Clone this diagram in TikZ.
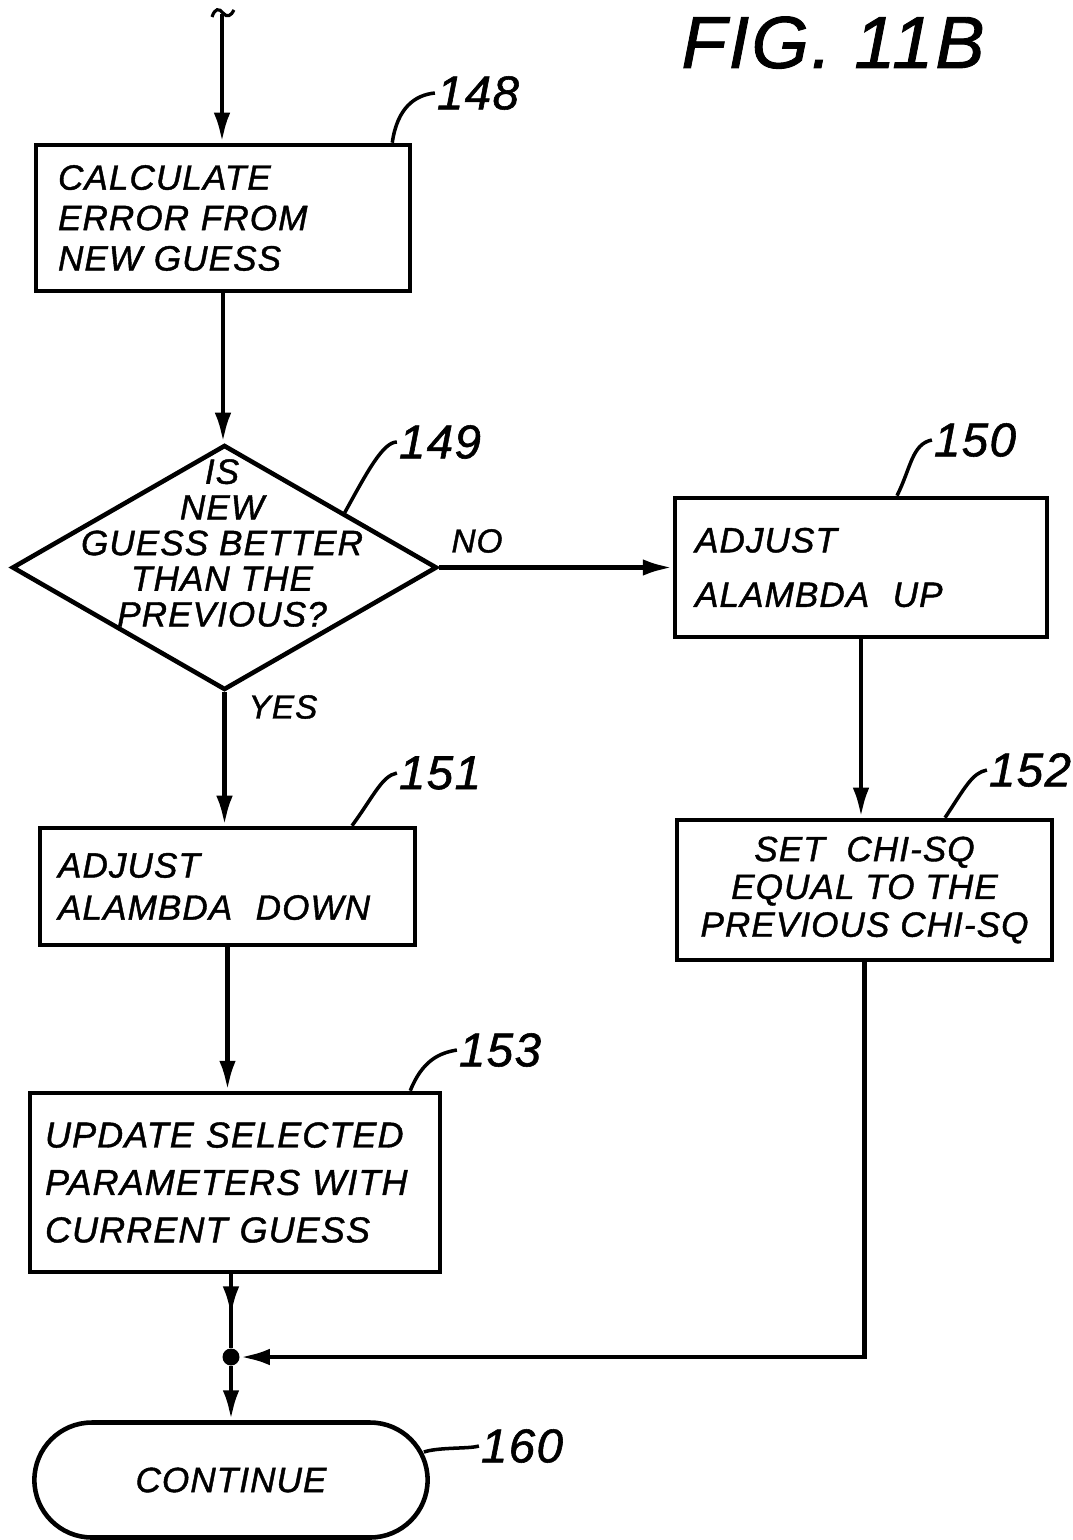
\documentclass[tikz,border=0pt]{standalone}
\usepackage{fontspec}
\setmainfont{Liberation Sans}[ItalicFeatures={LetterSpace=3, FakeBold=1.2}]
\usetikzlibrary{arrows.meta, calc, shapes.geometric, shapes.misc, decorations.markings}

\tikzset{
  every node/.style={font=\itshape\fontsize{20}{23}\selectfont},
  procbox/.style={draw, line width=2.6pt, align=left, inner ysep=0pt},
  decision/.style={draw, diamond, line width=2.6pt, inner sep=0pt, minimum width=8.5cm, minimum height=4.9cm},
  terminal/.style={draw, rounded rectangle, line width=2.6pt, minimum width=8.1cm, minimum height=2.3cm},
  flow/.style={line width=2.8pt, -{Latex[length=0.6cm, width=0.33cm]}},
  midarrow/.style={line width=2.8pt, postaction={decorate},
    decoration={markings, mark=at position 0.57 with {\arrow{Latex[length=0.6cm, width=0.33cm]}}}},
  leader/.style={line width=2pt},
  reflabel/.style={font=\itshape\fontsize{27}{30}\selectfont, inner sep=1pt},
  branch/.style={font=\itshape\fontsize{19}{22}\selectfont, inner sep=0pt},
}

\begin{document}
\begin{tikzpicture}[x=0.02cm, y=-0.02cm]
  \useasboundingbox (0,0) rectangle (1072,1540);

  % title
  \node[font=\itshape\fontsize{42}{46}\selectfont, inner sep=0pt, anchor=base] (fig) at (833,68) {FIG. 11B};

  % steps
  \coordinate (entry) at (222,14);
  \node[procbox, minimum width=7.48cm, minimum height=2.92cm, text width=6.6cm] (calc) at (223,218)
    {CALCULATE\\ERROR FROM\\NEW GUESS};
  \node[decision] (test) at (224.5,567.5) {};
  \node[align=center, font=\itshape\fontsize{20}{20.3}\selectfont] (testtxt) at (222,543)
    {IS\\NEW\\GUESS BETTER\\THAN THE\\PREVIOUS?};
  \node[procbox, minimum width=7.44cm, minimum height=2.78cm, text width=6.64cm] (adjup) at (861,567.5)
    {ADJUST\\[8pt]ALAMBDA\ \ UP};
  \node[procbox, minimum width=7.5cm, minimum height=2.34cm, text width=6.78cm] (adjdown) at (227.5,886.5)
    {ADJUST\\[1pt]ALAMBDA\ \ DOWN};
  \node[procbox, align=center, minimum width=7.5cm, minimum height=2.8cm, font=\itshape\fontsize{20}{21.5}\selectfont] (chisq) at (864.5,890)
    {SET\ \ CHI-SQ\\EQUAL TO THE\\PREVIOUS CHI-SQ};
  \node[procbox, minimum width=8.2cm, minimum height=3.58cm, text width=7.6cm, font=\itshape\fontsize{20.5}{27}\selectfont] (update) at (235,1182.5)
    {UPDATE SELECTED\\PARAMETERS WITH\\CURRENT GUESS};
  \node[circle, fill, inner sep=0pt, minimum size=0.34cm] (jn) at (231,1357) {};
  \node[terminal] (done) at (231,1480) {CONTINUE};

  % branch texts
  \node[branch] (no) at (477,541) {NO};
  \node[branch] (yes) at (283,707) {YES};

  % connectors
  \draw[line width=1.8pt] (212,17) .. controls (215,8) and (219,8) .. (223,13) .. controls (227,18) and (231,16) .. (234,10);
  \draw[flow] (entry) -- (entry |- calc.north);
  \draw[flow] (calc.south) -- (calc.south |- test.north);
  \draw[flow] (test.east) -- (adjup.west);
  \draw[flow] (test.south) -- (test.south |- adjdown.north);
  \draw[flow] (adjup.south) -- (adjup.south |- chisq.north);
  \draw[flow] (adjdown.south) -- (adjdown.south |- update.north);
  \draw[midarrow] (update.south -| jn) -- (jn);
  \draw[flow] (chisq.south) |- (jn);
  \draw[flow] (jn) -- (jn |- done.north);

  % reference numerals
  \node[reflabel] (l148) at (478,93) {148};
  \node[reflabel] (l149) at (440,442) {149};
  \node[reflabel] (l150) at (975,440) {150};
  \node[reflabel] (l151) at (440,773) {151};
  \node[reflabel] (l152) at (1030,770) {152};
  \node[reflabel] (l153) at (500,1050) {153};
  \node[reflabel] (l160) at (522,1446) {160};

  \draw[leader] ([xshift=-0.4cm]calc.north east) .. controls +(5,-35) and +(-20,2) .. (l148.west);
  \draw[leader] ($(test.north)!0.56!(test.east)$) .. controls +(22,-40) and +(-14,0) .. (l149.west);
  \draw[leader] ([xshift=0.72cm]adjup.north) .. controls +(14,-28) and +(-20,4) .. (l150.west);
  \draw[leader] ([xshift=2.49cm]adjdown.north) .. controls +(22,-30) and +(-15,3) .. (l151.west);
  \draw[leader] ([xshift=1.61cm]chisq.north) .. controls +(20,-30) and +(-15,3) .. (l152.west);
  \draw[leader] ([xshift=-0.64cm]update.north east) .. controls +(12,-30) and +(-18,3) .. (l153.west);
  \draw[leader] ($(done.east)+(-6,-28)$) .. controls +(15,-5) and +(-10,3) .. (l160.west);
\end{tikzpicture}
\end{document}
